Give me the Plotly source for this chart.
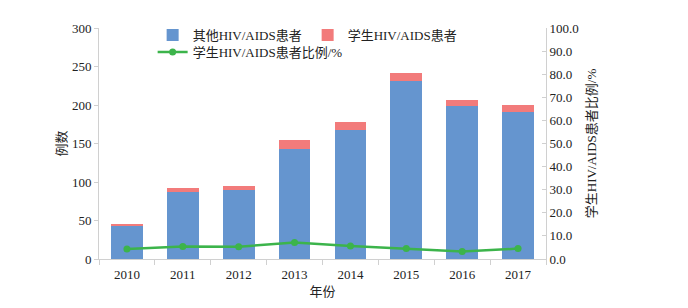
import plotly.graph_objects as go

years = ["2010", "2011", "2012", "2013", "2014", "2015", "2016", "2017"]
other_cases = [44, 87, 90, 143, 168, 231, 199, 191]
student_cases = [2, 5, 5, 11, 10, 11, 7, 9]
student_pct = [4.3, 5.4, 5.3, 7.1, 5.6, 4.5, 3.2, 4.5]

FONT = "Liberation Serif, Noto Sans CJK SC, serif"
TXT = "#222222"
AX = "#d0d0d0"

fig = go.Figure()
fig.add_trace(go.Bar(x=years, y=other_cases, name="其他HIV/AIDS患者",
                     marker=dict(color="#6595CF", line=dict(width=0)), legend="legend"))
fig.add_trace(go.Bar(x=years, y=student_cases, name="学生HIV/AIDS患者",
                     marker=dict(color="#F27B7B", line=dict(width=0)), legend="legend"))
fig.add_trace(go.Scatter(x=years, y=student_pct, name="学生HIV/AIDS患者比例/%",
                         yaxis="y2", mode="lines+markers", legend="legend2",
                         line=dict(color="#3CB44B", width=2.5),
                         marker=dict(color="#3CB44B", size=7)))

leg_common = dict(orientation="h", xanchor="left", yanchor="top",
                  bgcolor="rgba(0,0,0,0)", font=dict(size=13, family=FONT, color=TXT),
                  itemwidth=30, traceorder="normal")

fig.update_layout(
    width=680, height=300,
    margin=dict(l=91, r=142, t=17, b=49),
    paper_bgcolor="white", plot_bgcolor="white",
    barmode="stack", bargap=0.43,
    font=dict(family=FONT, size=13, color=TXT),
    showlegend=True,
    legend=dict(x=0.12, y=1.034, entrywidth=110, **leg_common),
    legend2=dict(x=0.12, y=0.961, **leg_common),
    xaxis=dict(title=dict(text="年份", standoff=6, font=dict(size=13)),
               showline=True, linecolor=AX, linewidth=1, automargin=False,
               ticks="outside", tickson="boundaries", ticklen=5, tickcolor=AX,
               ticklabelstandoff=3,
               showgrid=False, zeroline=False),
    yaxis=dict(title=dict(text="例数", standoff=2, font=dict(size=13)),
               range=[0, 300], dtick=50, showline=True, linecolor=AX, linewidth=1,
               ticks="outside", ticklen=4, tickcolor=AX, automargin=False,
               showgrid=False, zeroline=False),
    yaxis2=dict(title=dict(text="学生HIV/AIDS患者比例/%", standoff=9, font=dict(size=13)),
                overlaying="y", side="right", range=[0, 100], dtick=10,
                tickformat=".1f", showline=True, linecolor=AX, linewidth=1,
                ticks="inside", ticklen=4, tickcolor=AX, automargin=False,
                showgrid=False, zeroline=False),
)

fig.write_html("out.html")
